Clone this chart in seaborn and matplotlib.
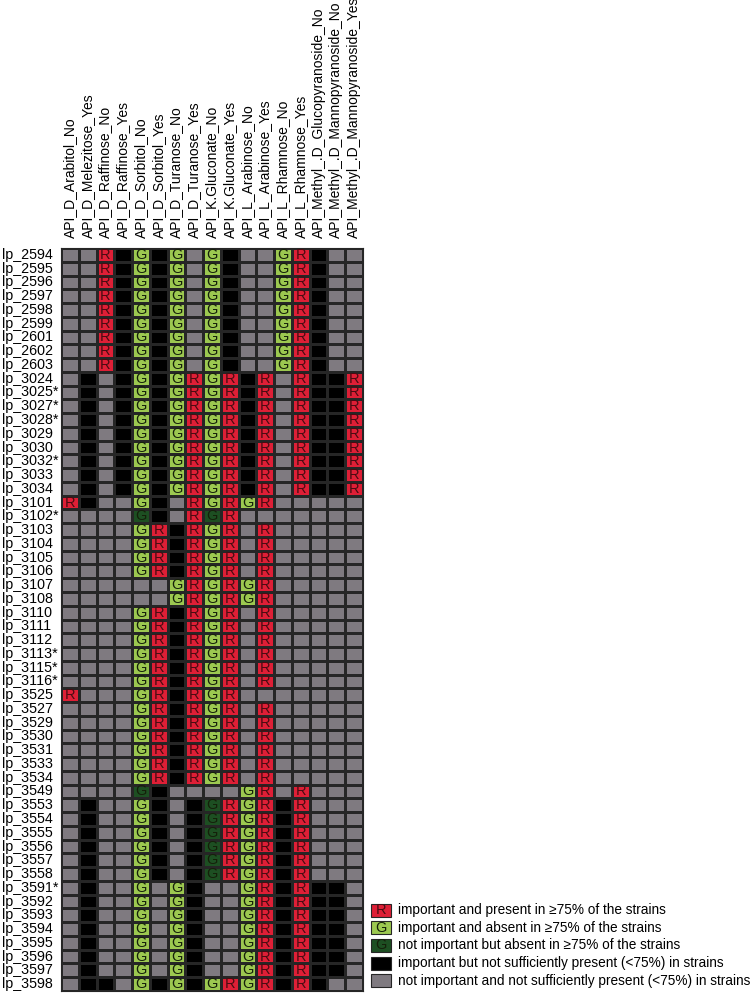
import matplotlib
matplotlib.use("Agg")
import matplotlib.pyplot as plt
from matplotlib.colors import ListedColormap
from matplotlib.patches import Rectangle
import numpy as np
import pandas as pd
import seaborn as sns

# DATA
strains = ["lp_2594", "lp_2595", "lp_2596", "lp_2597", "lp_2598", "lp_2599", "lp_2601", "lp_2602", "lp_2603",
           "lp_3024", "lp_3025*", "lp_3027*", "lp_3028*", "lp_3029", "lp_3030", "lp_3032*", "lp_3033", "lp_3034",
           "lp_3101", "lp_3102*", "lp_3103", "lp_3104", "lp_3105", "lp_3106", "lp_3107", "lp_3108",
           "lp_3110", "lp_3111", "lp_3112", "lp_3113*", "lp_3115*", "lp_3116*",
           "lp_3525", "lp_3527", "lp_3529", "lp_3530", "lp_3531", "lp_3533", "lp_3534",
           "lp_3549", "lp_3553", "lp_3554", "lp_3555", "lp_3556", "lp_3557", "lp_3558",
           "lp_3591*", "lp_3592", "lp_3593", "lp_3594", "lp_3595", "lp_3596", "lp_3597", "lp_3598"]

features = ["API_D_Arabitol_No", "API_D_Melezitose_Yes", "API_D_Raffinose_No", "API_D_Raffinose_Yes",
            "API_D_Sorbitol_No", "API_D_Sorbitol_Yes", "API_D_Turanose_No", "API_D_Turanose_Yes",
            "API_K.Gluconate_No", "API_K.Gluconate_Yes", "API_L_Arabinose_No", "API_L_Arabinose_Yes",
            "API_L_Rhamnose_No", "API_L_Rhamnose_Yes", "API_Methyl_.D_Glucopyranoside_No",
            "API_Methyl_.D_Mannopyranoside_No", "API_Methyl_.D_Mannopyranoside_Yes"]

# N = grey, B = black, D = dark green, G = light green, R = red
cell_codes = (["NNRBGBGNGBNNGRBNN"] * 9
              + ["NBNBGBGRGRBRNRBBR"] * 9
              + ["RBNNGBNRGRGRNNNNN",
                 "NNNNDBNRDRNNNNNNN"]
              + ["NNNNGRBRGRNRNNNNN"] * 4
              + ["NNNNNNGRGRGRNNNNN"] * 2
              + ["NNNNGRBRGRNRNNNNN"] * 6
              + ["RNNNGRBRGRNNNNNNN"]
              + ["NNNNGRBRGRNRNNNNN"] * 6
              + ["NNNNDBNNNNGRNRNNN"]
              + ["NBNNGBNBDRGRBRNNN"] * 6
              + ["NBNNGNGBNNGRBRBBN"] * 7
              + ["NBBNGBGBGRGRBRBNN"])

legend_codes = ["R", "G", "D", "B", "N"]
legend_labels = ["important and present in \u226575% of the strains",
                 "important and absent in \u226575% of the strains",
                 "not important but absent in \u226575% of the strains",
                 "important but not sufficiently present (<75%) in strains",
                 "not important and not sufficiently present (<75%) in strains"]

# COLOURS / CODES
order = ["N", "B", "D", "G", "R"]
colors = {"N": "#7f7a80", "B": "#000000", "D": "#1d4f22", "G": "#9cc850", "R": "#de1f36"}
letters = {"N": "", "B": "", "D": "G", "G": "G", "R": "R"}
letter_colors = {"R": "#4a0c12", "G": "#15200a"}

values = pd.DataFrame([[order.index(c) for c in row] for row in cell_codes], index=strains, columns=features)
annot = np.array([[letters[c] for c in row] for row in cell_codes])

plt.rcParams['font.family'] = ['Liberation Sans', 'DejaVu Sans']

fig = plt.figure(figsize=(7.55, 9.96), dpi=100)
ax = fig.add_axes([61 / 755, 5 / 996, 302 / 755, 743 / 996])

sns.heatmap(values, ax=ax, cmap=ListedColormap([colors[k] for k in order]), vmin=-0.5, vmax=4.5,
            cbar=False, linewidths=0.8, linecolor="#262626", annot=annot, fmt="",
            annot_kws={"fontsize": 10.5}, xticklabels=True, yticklabels=True)

for t in ax.texts:
    t.set_color(letter_colors.get(t.get_text(), "black"))

# COLUMN LABELS ON TOP
ax.xaxis.tick_top()
ax.set_xticklabels(features, rotation=90, fontsize=10, va="bottom")
ax.tick_params(axis="x", length=0, pad=7)

# ROW LABELS LEFT-ALIGNED
ax.set_yticklabels(strains, rotation=0, fontsize=10.3, ha="left")
ax.tick_params(axis="y", length=0, pad=42.5)
ax.set_xlabel("")
ax.set_ylabel("")
for s in ax.spines.values():
    s.set_visible(True)
    s.set_color("#262626")
    s.set_linewidth(0.8)

# LEGEND
for i, (code, label) in enumerate(zip(legend_codes, legend_labels)):
    yc = 910 + i * 17.7
    fig.add_artist(Rectangle((371 / 755, 1 - (yc + 6.5) / 996), 20 / 755, 13 / 996,
                             transform=fig.transFigure, facecolor=colors[code],
                             edgecolor="#262626", linewidth=0.8))
    if letters[code]:
        fig.text(381 / 755, 1 - yc / 996, letters[code], ha="center", va="center", fontsize=10.5,
                 color=letter_colors[letters[code]])
    fig.text(398 / 755, 1 - yc / 996, label, ha="left", va="center", fontsize=9.8)

fig.savefig("out.png", dpi=100)
